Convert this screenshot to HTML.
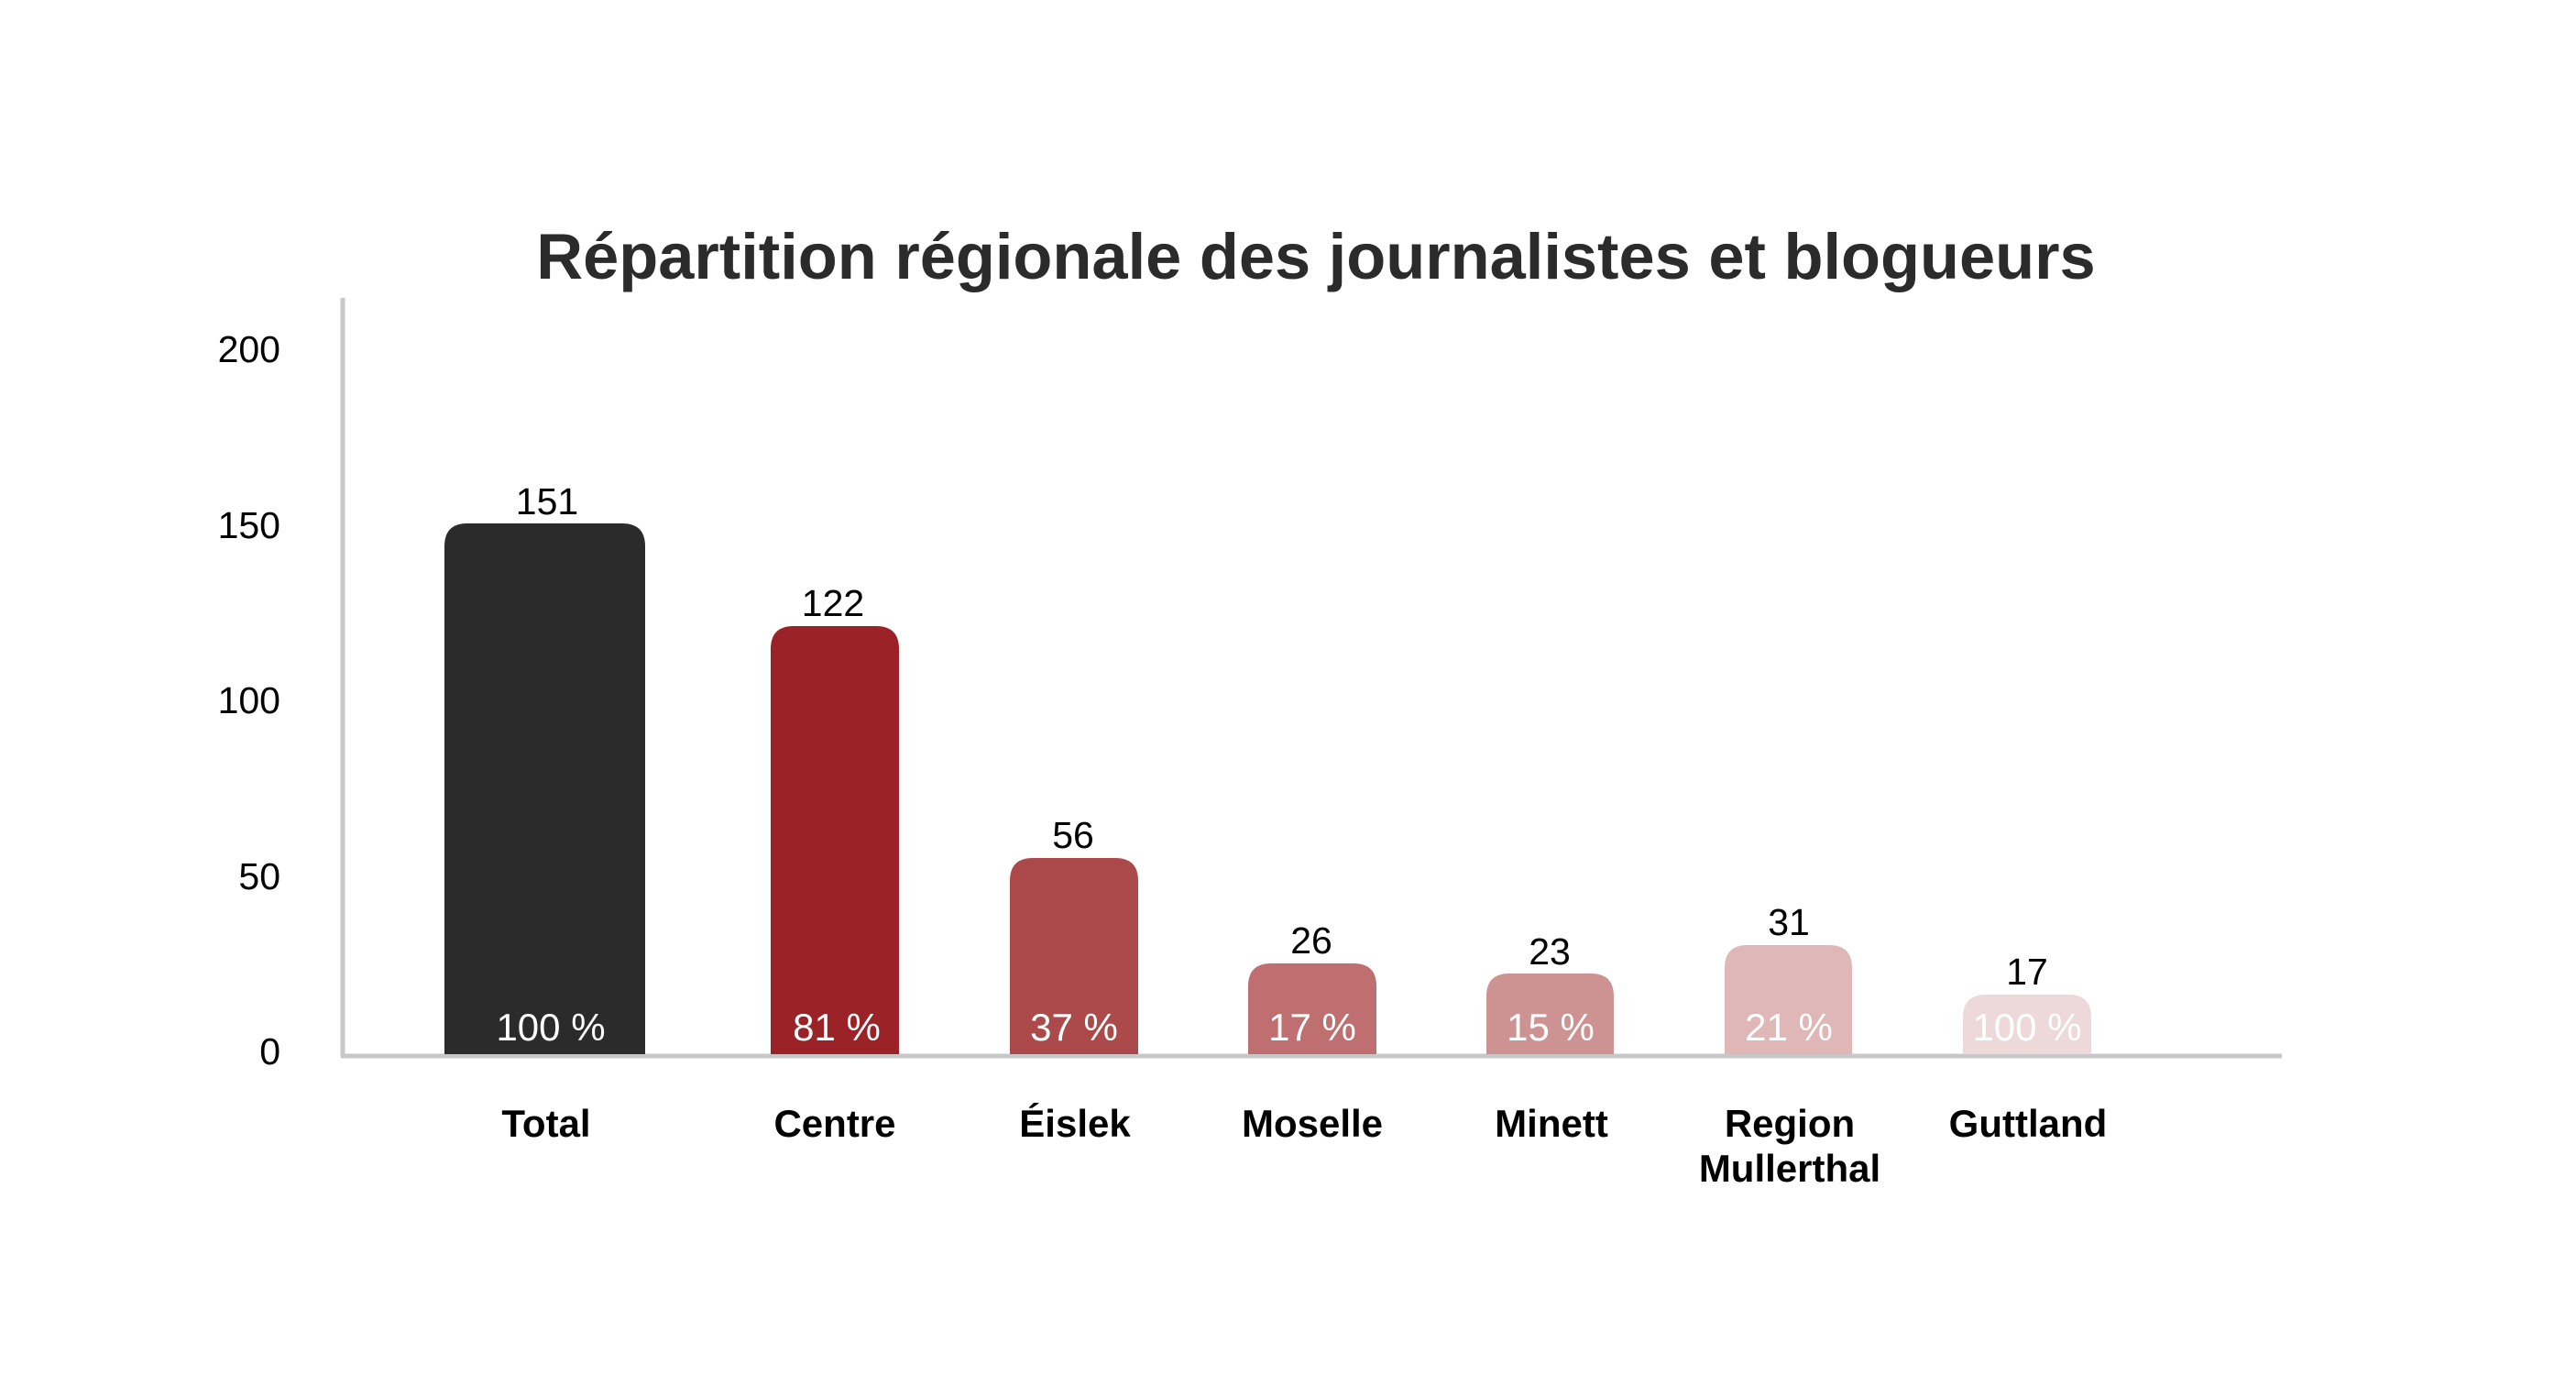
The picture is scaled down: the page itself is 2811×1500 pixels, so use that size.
<!DOCTYPE html>
<html><head><meta charset="utf-8"><style>
html,body{margin:0;padding:0;background:#fff;}
svg{display:block;}
text{font-family:"Liberation Sans",Arial,sans-serif;}
</style></head><body>
<svg width="2811" height="1500" viewBox="0 0 2811 1500" xmlns="http://www.w3.org/2000/svg">
<rect width="2811" height="1500" fill="#fff"/>
<text x="1436" y="304" text-anchor="middle" font-size="70.4" font-weight="bold" fill="#2b2b2b">Répartition régionale des journalistes et blogueurs</text>
<line x1="374" y1="325" x2="374" y2="1153" stroke="#c8c8c8" stroke-width="5"/>
<line x1="372" y1="1152" x2="2490" y2="1152" stroke="#c8c8c8" stroke-width="5"/>
<g font-size="41" fill="#000" text-anchor="end">
<text x="306" y="395">200</text>
<text x="306" y="587">150</text>
<text x="306" y="778">100</text>
<text x="306" y="970">50</text>
<text x="306" y="1161">0</text>
</g>
<g>
<path d="M485,1150 V596 Q485,571 510,571 H679 Q704,571 704,596 V1150 Z" fill="#2b2b2b"/>
<path d="M841,1150 V708 Q841,683 866,683 H956 Q981,683 981,708 V1150 Z" fill="#9b2226"/>
<path d="M1102,1150 V961 Q1102,936 1127,936 H1217 Q1242,936 1242,961 V1150 Z" fill="#ac4a4b"/>
<path d="M1362,1150 V1076 Q1362,1051 1387,1051 H1477 Q1502,1051 1502,1076 V1150 Z" fill="#bf6f6f"/>
<path d="M1622,1150 V1087 Q1622,1062 1647,1062 H1736 Q1761,1062 1761,1087 V1150 Z" fill="#cd9393"/>
<path d="M1882,1150 V1056 Q1882,1031 1907,1031 H1996 Q2021,1031 2021,1056 V1150 Z" fill="#dfb7b6"/>
<path d="M2142,1150 V1110 Q2142,1085 2167,1085 H2257 Q2282,1085 2282,1110 V1150 Z" fill="#eed9da"/>
</g>
<g font-size="41" fill="#000" text-anchor="middle">
<text x="597" y="561">151</text>
<text x="909" y="672">122</text>
<text x="1171" y="925">56</text>
<text x="1431" y="1040">26</text>
<text x="1691" y="1052">23</text>
<text x="1952" y="1020">31</text>
<text x="2212" y="1074">17</text>
</g>
<g font-size="42" fill="#fff" text-anchor="middle">
<text x="601" y="1135">100 %</text>
<text x="913" y="1135">81 %</text>
<text x="1172" y="1135">37 %</text>
<text x="1432" y="1135">17 %</text>
<text x="1692" y="1135">15 %</text>
<text x="1952" y="1135">21 %</text>
<text x="2212" y="1135">100 %</text>
</g>
<g font-size="42" font-weight="bold" fill="#000" text-anchor="middle">
<text x="596" y="1240">Total</text>
<text x="911" y="1240">Centre</text>
<text x="1173" y="1240">Éislek</text>
<text x="1432" y="1240">Moselle</text>
<text x="1693" y="1240">Minett</text>
<text x="1953" y="1240">Region</text>
<text x="1953" y="1289">Mullerthal</text>
<text x="2213" y="1240">Guttland</text>
</g>
</svg>
</body></html>
